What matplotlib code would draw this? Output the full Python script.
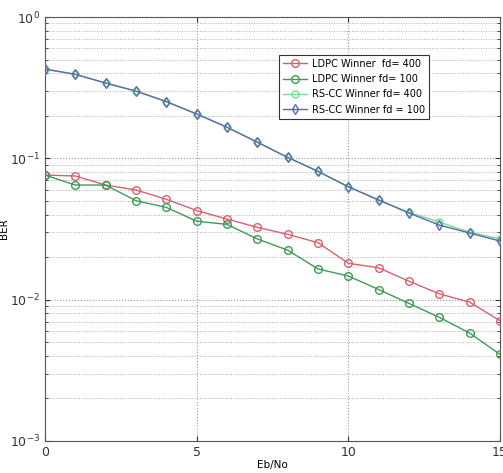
import matplotlib
matplotlib.use("Agg")
import matplotlib.pyplot as plt
from matplotlib.ticker import LogLocator, NullFormatter, FixedLocator

ebno = list(range(16))
ldpc_400 = [0.0762, 0.0750, 0.0647, 0.0597, 0.0513, 0.0427, 0.0372, 0.0325,
            0.0290, 0.0253, 0.0181, 0.0168, 0.0135, 0.0110, 0.0096, 0.0071]
ldpc_100 = [0.0762, 0.0647, 0.0647, 0.0501, 0.0450, 0.0359, 0.0341, 0.0269,
            0.0224, 0.0165, 0.0147, 0.0118, 0.0094, 0.0075, 0.0058, 0.0041]
rscc_400 = [0.428, 0.393, 0.341, 0.299, 0.252, 0.206, 0.166, 0.130,
            0.1016, 0.0809, 0.0629, 0.0507, 0.0415, 0.0354, 0.0300, 0.0269]
rscc_100 = [0.428, 0.393, 0.341, 0.299, 0.252, 0.206, 0.166, 0.130,
            0.1016, 0.0809, 0.0629, 0.0507, 0.0410, 0.0337, 0.0296, 0.0260]
labels = ["LDPC Winner  fd= 400", "LDPC Winner fd= 100",
          "RS-CC Winner fd= 400", "RS-CC Winner fd = 100"]

fig = plt.figure(figsize=(5.03, 4.73), dpi=100)
ax = fig.add_axes([45/503, 32/473, 455/503, 424/473])

ax.plot(ebno, rscc_400, color="#72e090", marker="o", mfc="none", ms=5, lw=1.0, label=labels[2], zorder=3)
ax.plot(ebno, rscc_100, color="#5a6aa8", marker="d", mfc="none", ms=5, lw=1.0, label=labels[3], zorder=4)
ax.plot(ebno, ldpc_400, color="#d9606e", marker="o", mfc="none", ms=5.5, lw=1.0, label=labels[0], zorder=3)
ax.plot(ebno, ldpc_100, color="#3f9a55", marker="o", mfc="none", ms=5.5, lw=1.0, label=labels[1], zorder=3)

ax.set_yscale("log")
ax.set_ylim(1e-3, 1)
ax.set_xlim(0, 15)
ax.xaxis.set_major_locator(FixedLocator([0, 5, 10, 15]))
ax.yaxis.set_major_locator(LogLocator(base=10, numticks=10))
ax.yaxis.set_minor_locator(LogLocator(base=10, subs=range(2, 10), numticks=20))
ax.yaxis.set_minor_formatter(NullFormatter())

ax.grid(True, which="major", linestyle=":", color="#999999", lw=0.8)
ax.grid(True, which="minor", axis="y", linestyle=":", color="#aaaaaa", lw=0.7)
ax.tick_params(which="both", direction="in", top=True, right=True, labelsize=9, colors="#333333")
ax.tick_params(which="minor", length=2)
for s in ax.spines.values():
    s.set_color("#555555")
    s.set_linewidth(0.8)

ax.set_xlabel("Eb/No", fontsize=7.5, labelpad=1)
ax.set_ylabel("BER", fontsize=7.5, labelpad=1)

h, l = ax.get_legend_handles_labels()
order = [2, 3, 0, 1]
leg = ax.legend([h[i] for i in order], [l[i] for i in order], loc="upper left",
                bbox_to_anchor=((274-45)/455, (441-50)/424), fontsize=7, fancybox=False,
                edgecolor="#333333", framealpha=1, borderpad=0.4, labelspacing=0.55,
                handlelength=2.5, handletextpad=0.5)
leg.get_frame().set_linewidth(0.8)

fig.savefig("out.png", dpi=100)
